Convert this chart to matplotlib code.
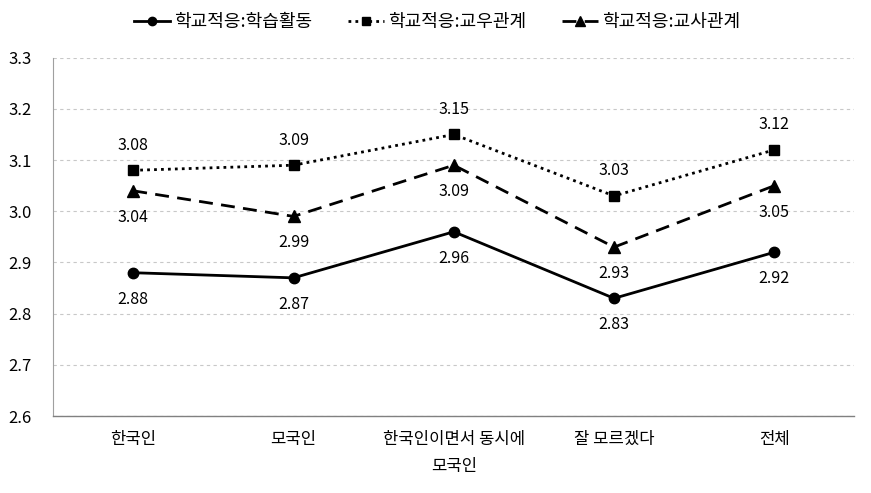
import matplotlib
matplotlib.use("Agg")
import matplotlib.pyplot as plt

plt.rcParams['font.family'] = ['Noto Sans CJK KR', 'DejaVu Sans']

categories = ['한국인', '모국인', '한국인이면서 동시에\n모국인', '잘 모르겠다', '전체']
series_names = ['학교적응:학습활동', '학교적응:교우관계', '학교적응:교사관계']
learning = [2.88, 2.87, 2.96, 2.83, 2.92]
peers = [3.08, 3.09, 3.15, 3.03, 3.12]
teachers = [3.04, 2.99, 3.09, 2.93, 3.05]
yticks = [2.6, 2.7, 2.8, 2.9, 3.0, 3.1, 3.2, 3.3]

fig = plt.figure(figsize=(8.71, 4.93), dpi=100)
ax = fig.add_axes([0.061, 0.156, 0.92, 0.727])

x = list(range(len(categories)))
l1, = ax.plot(x, learning, color='black', lw=2.0, ls='-', marker='o', ms=7.5, label=series_names[0])
l2, = ax.plot(x, peers, color='black', lw=2.0, ls=(0, (1, 1.5)), marker='s', ms=7.5, label=series_names[1])
l3, = ax.plot(x, teachers, color='black', lw=2.0, ls=(0, (5, 3)), marker='^', ms=8.5, label=series_names[2])

fs = 12
for xi, v in zip(x, learning):
    ax.annotate(f'{v:.2f}', (xi, v), xytext=(0, -19), textcoords='offset points', ha='center', va='center', fontsize=11.5)
for xi, v in zip(x, peers):
    ax.annotate(f'{v:.2f}', (xi, v), xytext=(0, 18), textcoords='offset points', ha='center', va='center', fontsize=11.5)
for xi, v in zip(x, teachers):
    ax.annotate(f'{v:.2f}', (xi, v), xytext=(0, -19), textcoords='offset points', ha='center', va='center', fontsize=11.5)

ax.set_xlim(-0.5, len(categories) - 0.5)
ax.set_ylim(2.6, 3.3)
ax.set_yticks(yticks)
ax.set_yticklabels([f'{t:.1f}' for t in yticks], fontsize=fs)
ax.set_xticks(x)
ax.set_xticklabels(categories, fontsize=fs, linespacing=1.75)
ax.tick_params(axis='both', length=0)
ax.tick_params(axis='x', pad=11)
ax.tick_params(axis='y', pad=32)
for lab in ax.get_yticklabels():
    lab.set_horizontalalignment('left')

ax.grid(axis='y', color='#c8c8c8', ls=(0, (3, 3)), lw=0.8)
ax.set_axisbelow(True)
for s in ['top', 'right']:
    ax.spines[s].set_visible(False)
ax.spines['left'].set_color('#a0a0a0')
ax.spines['bottom'].set_color('#808080')
ax.spines['left'].set_linewidth(0.8)
ax.spines['bottom'].set_linewidth(1.0)

fig.legend(handles=[l1, l2, l3], loc='center', bbox_to_anchor=(0.502, 0.955), ncol=3, frameon=False,
           fontsize=13, handlelength=2.0, columnspacing=2.0, handletextpad=0.2, markerscale=0.8)

fig.savefig('out.png', dpi=100)
